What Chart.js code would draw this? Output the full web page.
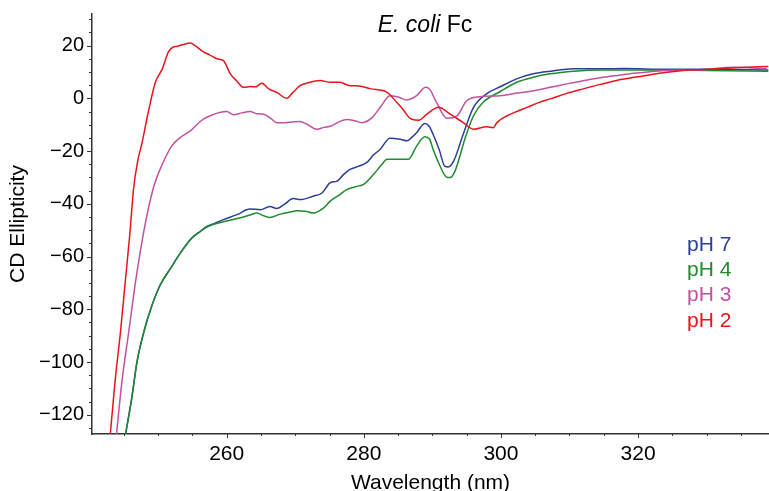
<!DOCTYPE html>
<html>
<head>
<meta charset="utf-8">
<script src="https://cdn.jsdelivr.net/npm/chart.js@4.4.1/dist/chart.umd.min.js"></script>
<style>
  body { margin: 0; background: #fff; }
  #wrap { width: 769px; height: 491px; }
</style>
</head>
<body>
<div id="wrap"><canvas id="cdChart" width="769" height="491"></canvas></div>
<script>
// wavelength (nm) / CD ellipticity
const ph7Wl = [245.2, 246.2, 246.9, 247.9, 249.1, 250.3, 251.8, 253.2, 254.9, 256.1, 257.1, 258.3, 259.5, 261.5, 263.4, 264.9, 266.3, 267.3, 268.5, 269.7, 270.7, 272.6, 273.9, 275.1, 276.1, 277.0, 278.0, 279.2, 280.4, 281.4, 282.4, 283.8, 285.3, 286.3, 287.0, 287.7, 288.9, 289.5, 290.1, 291.0, 291.8, 292.3, 293.1, 294.5, 296.0, 297.9, 299.9, 302.3, 304.7, 307.2, 310.6, 314.5, 318.0, 324.2, 330.0, 339.0];
const ph7Cd = [-128, -112.8, -100.1, -88.7, -78.5, -70.8, -64.5, -58.8, -53, -50.5, -48.6, -47.3, -46, -44.1, -42, -42.2, -41, -41.8, -40, -38, -38.4, -37.1, -35.9, -32, -31.4, -29, -26.9, -25.8, -24.4, -21.5, -19.3, -15.1, -15.5, -16.1, -14.8, -13, -9.5, -10.5, -13.6, -19.5, -25.7, -26, -23.8, -13.6, -3.4, 1.7, 4.4, 7.4, 9.3, 10.3, 11.2, 11.2, 11.3, 11, 11, 10.8];

const ph4Wl = [245.2, 246.2, 246.9, 247.9, 249.1, 250.3, 251.8, 253.2, 254.9, 256.1, 257.1, 259.5, 262.0, 263.4, 264.4, 265.4, 266.3, 267.8, 269.3, 270.2, 271.7, 272.6, 274.1, 275.1, 276.5, 277.5, 278.8, 279.9, 281.4, 282.5, 283.4, 285.3, 286.5, 287.7, 288.9, 289.6, 290.1, 291.0, 292.1, 292.6, 293.3, 294.8, 296.0, 297.4, 299.9, 302.3, 304.7, 307.2, 310.6, 314.5, 320.0, 330.0, 339.0];
const ph4Cd = [-128, -112.8, -100.1, -88.7, -78.5, -70.8, -64.5, -58.8, -53, -50.6, -48.8, -46.8, -45.3, -44.2, -43.5, -44.5, -45.2, -43.9, -43.1, -42.6, -42.9, -43.5, -41.6, -39, -36.5, -34.6, -33.5, -32.7, -28.9, -25.5, -23.1, -23.1, -23.1, -18.1, -14.6, -15.5, -19.3, -25, -29.9, -30, -27.6, -14.9, -6.6, -1.5, 2.6, 6.1, 8, 9.3, 10.3, 10.8, 10.8, 10.6, 10.3];

const ph3Wl = [243.9, 244.7, 245.7, 246.7, 247.9, 249.3, 250.6, 252.0, 253.2, 254.7, 255.7, 256.6, 257.6, 259.1, 260.0, 261.0, 262.2, 263.4, 264.4, 265.4, 266.5, 267.3, 268.5, 269.7, 270.7, 271.7, 273.1, 274.2, 275.1, 276.3, 277.5, 278.7, 279.7, 281.2, 282.5, 283.8, 285.0, 286.3, 287.7, 289.0, 289.6, 290.6, 292.1, 293.6, 295.0, 296.9, 299.9, 302.3, 304.8, 307.2, 309.6, 312.0, 314.5, 317.0, 319.4, 321.8, 324.2, 329.1, 334.0, 338.8];
const ph3Cd = [-128, -107.7, -88.7, -69.6, -50.5, -34, -25, -18, -14.9, -12.3, -9.8, -7.9, -6.6, -5.3, -5, -6.2, -5.5, -5, -5.8, -6, -7.8, -9.2, -9.2, -8.9, -8.8, -9.8, -11.7, -11, -10.6, -9, -8, -8.5, -9.2, -7.3, -3, 1, 0.5, -0.6, 1, 4.2, 3.5, -1.5, -7.5, -6.6, -0.9, 0.6, 1, 2, 2.9, 4.2, 5.5, 6.7, 7.8, 8.7, 9.5, 10.1, 10.6, 10.8, 11.8, 11.2];

const ph2Wl = [243.0, 243.7, 244.5, 245.2, 245.9, 246.4, 247.0, 247.6, 248.6, 249.6, 250.6, 251.5, 252.2, 252.7, 253.5, 254.7, 255.4, 256.6, 257.5, 258.6, 259.5, 260.5, 261.5, 262.4, 263.5, 264.2, 265.1, 266.2, 267.3, 268.8, 269.5, 270.7, 272.0, 273.6, 275.1, 276.5, 278.0, 279.0, 281.0, 283.4, 284.8, 285.8, 286.7, 288.0, 289.2, 290.9, 292.6, 294.5, 296.0, 297.9, 298.9, 299.4, 300.9, 302.0, 303.8, 305.5, 307.2, 309.5, 312.0, 314.5, 316.9, 319.5, 321.8, 324.2, 326.6, 329.0, 331.5, 335.0, 339.0];
const ph2Cd = [-128, -107.7, -88.7, -69.6, -50.5, -34.6, -24, -17.4, -4.7, 6.1, 11.2, 17.6, 19.5, 19.7, 20.3, 21, 20, 17.6, 16.5, 15, 14.4, 9.4, 6.5, 4.2, 4.5, 4.4, 5.7, 3.5, 2.3, 0, 1.8, 4.8, 6, 6.8, 6.1, 6.1, 4.8, 4.8, 3.6, 2.3, -1.5, -4.5, -7.5, -8.3, -6, -3.4, -6, -9.2, -11.7, -10.8, -11.1, -9.2, -6.6, -5.3, -3.4, -1.6, -0.2, 1.8, 3.6, 5.3, 6.8, 8, 9, 9.9, 10.6, 10.9, 11.2, 11.7, 12.1];

const seriesLabels = ['pH 7', 'pH 4', 'pH 3', 'pH 2'];
const seriesColors = ['#2a3f98', '#1f8a2f', '#c0529f', '#e8141c'];
const xTicks = [260, 280, 300, 320];
const yTicks = [-120, -100, -80, -60, -40, -20, 0, 20];

const allWl = [ph7Wl, ph4Wl, ph3Wl, ph2Wl];
const allCd = [ph7Cd, ph4Cd, ph3Cd, ph2Cd];

const FONT = '"Liberation Sans", Arial, Helvetica, sans-serif';

const datasets = seriesLabels.map((lab, k) => ({
  label: lab,
  data: allWl[k].map((x, i) => ({ x: x, y: allCd[k][i] })),
  borderColor: seriesColors[k],
  borderWidth: 1.5,
  pointRadius: 0,
  cubicInterpolationMode: 'monotone',
  order: 3 - k
}));

const minus = v => (v < 0 ? '\u2212' + Math.abs(v) : String(v));

// small ticks on both axes + the in-plot title and legend text
const decorPlugin = {
  id: 'decor',
  afterDraw(chart) {
    const { ctx, chartArea: a, scales: { x, y } } = chart;
    ctx.save();
    ctx.strokeStyle = '#333';
    ctx.lineWidth = 1;
    for (let v = -125; v <= 30; v += 5) {
      const py = Math.round(y.getPixelForValue(v)) + 0.5;
      const len = v % 20 === 0 ? 5 : 3;
      ctx.beginPath();
      ctx.moveTo(a.left - len, py);
      ctx.lineTo(a.left, py);
      ctx.stroke();
    }
    for (let v = 245; v <= 335; v += 5) {
      const px = Math.round(x.getPixelForValue(v)) + 0.5;
      const len = v % 20 === 0 ? 4 : 2;
      ctx.beginPath();
      ctx.moveTo(px, a.bottom);
      ctx.lineTo(px, a.bottom + len);
      ctx.stroke();
    }

    // title: "E. coli" italic, "Fc" upright
    ctx.fillStyle = '#000';
    ctx.textBaseline = 'alphabetic';
    ctx.textAlign = 'left';
    const italic = 'italic 23px ' + FONT;
    const upright = '23px ' + FONT;
    ctx.font = italic;
    const w1 = ctx.measureText('E. coli ').width;
    ctx.font = upright;
    const w2 = ctx.measureText('Fc').width;
    let tx = 425 - (w1 + w2) / 2;
    ctx.font = italic;
    ctx.fillText('E. coli ', tx, 32);
    ctx.font = upright;
    ctx.fillText('Fc', tx + w1, 32);

    // legend as coloured text
    ctx.font = '21px ' + FONT;
    ctx.textBaseline = 'middle';
    seriesLabels.forEach((lab, k) => {
      ctx.fillStyle = seriesColors[k];
      ctx.fillText(lab, 687, 245 + k * 25.3);
    });
    ctx.restore();
  }
};

new Chart(document.getElementById('cdChart'), {
  type: 'line',
  data: { datasets: datasets },
  options: {
    responsive: false,
    animation: false,
    layout: { padding: { top: 14, right: 0, left: 0, bottom: 0 } },
    plugins: { legend: { display: false }, tooltip: { enabled: false } },
    scales: {
      x: {
        type: 'linear',
        min: 240.35,
        max: 339.1,
        afterBuildTicks: s => { s.ticks = xTicks.map(v => ({ value: v })); },
        afterFit: s => { s.height = 57; s.paddingLeft = 0; s.paddingRight = 0; },
        grid: { display: false, drawTicks: false },
        border: { display: true, color: '#333', width: 1.5 },
        ticks: { color: '#000', padding: 8, maxRotation: 0, font: { family: FONT, size: 21 } },
        title: {
          display: true,
          text: 'Wavelength (nm)',
          color: '#000',
          font: { family: FONT, size: 21, lineHeight: 1 },
          padding: { top: 0, bottom: -3 }
        }
      },
      y: {
        min: -127.3,
        max: 32,
        afterBuildTicks: s => { s.ticks = yTicks.map(v => ({ value: v })); },
        afterFit: s => { s.width = 92; s.paddingTop = 0; s.paddingBottom = 0; },
        grid: { display: false, drawTicks: false },
        border: { display: true, color: '#333', width: 1.5 },
        ticks: { color: '#000', padding: 8, callback: v => minus(v), font: { family: FONT, size: 20 } },
        title: {
          display: true,
          text: 'CD Ellipticity',
          color: '#000',
          font: { family: FONT, size: 21, lineHeight: 1 },
          padding: { top: 8, bottom: 0 }
        }
      }
    }
  },
  plugins: [decorPlugin]
});
</script>
</body>
</html>
